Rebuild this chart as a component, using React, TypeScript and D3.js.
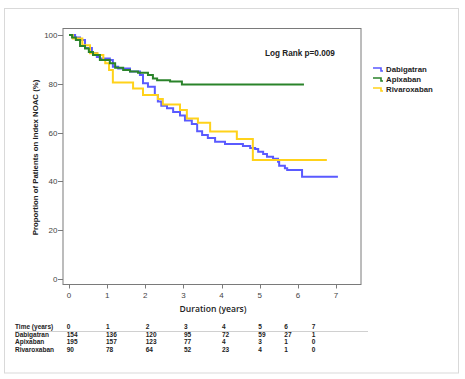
import React from "react";
import * as d3 from "d3";

const xTicks = [0, 1, 2, 3, 4, 5, 6, 7];
const yTicks = [0, 20, 40, 60, 80, 100];

const dabTime = [0, 0.16, 0.29, 0.42, 0.6, 0.73, 0.81, 1.07, 1.15, 1.29, 1.6, 1.86, 1.94, 2.07, 2.25, 2.33, 2.42, 2.57, 2.73, 2.91, 3.04, 3.22, 3.36, 3.49, 3.64, 3.83, 4.09, 4.56, 4.75, 4.88, 4.96, 5.09, 5.19, 5.35, 5.48, 5.51, 5.66, 5.72, 6.11, 7.05];
const dabSurv = [100, 99, 98, 94.7, 92.6, 91, 90.4, 89.8, 87, 86.3, 85, 83.6, 80.2, 78.8, 75.4, 72.7, 71, 70, 68.4, 67, 65, 63.5, 60.6, 59, 57.8, 56.3, 55.3, 54.5, 53.7, 53.3, 52.2, 51.2, 50.1, 49.3, 48.1, 46.4, 45.4, 44.7, 41.9, 41.9];

const apiTime = [0, 0.08, 0.18, 0.29, 0.42, 0.52, 0.63, 0.81, 1.07, 1.21, 1.42, 1.6, 1.81, 2.07, 2.2, 2.31, 2.65, 2.96, 6.16];
const apiSurv = [100, 99, 98, 95.5, 94.5, 93, 91.8, 89.8, 88.4, 86.6, 85.7, 85, 84.5, 83.6, 82.2, 81.5, 80.9, 79.7, 79.7];

const rivTime = [0, 0.1, 0.35, 0.55, 0.75, 0.9, 0.95, 1.05, 1.15, 1.68, 1.94, 2.33, 2.46, 2.91, 3.09, 3.38, 3.7, 4.4, 4.82, 6.76];
const rivSurv = [100, 98.6, 95.8, 92.5, 91.8, 89.8, 88.4, 85.7, 80.5, 78.1, 75.4, 73.8, 71.5, 69.3, 65.8, 64, 60.4, 57.4, 48.8, 48.8];

const seriesNames = ["Dabigatran", "Apixaban", "Rivaroxaban"];
const seriesColors = ["#5a5aff", "#2a832a", "#ffd21a"];

const tableTimes = ["0", "1", "2", "3", "4", "5", "6", "7"];
const riskDab = [154, 136, 120, 95, 72, 59, 27, 1];
const riskApi = [195, 157, 123, 77, 4, 3, 1, 0];
const riskRiv = [90, 78, 64, 52, 23, 4, 1, 0];

export default function App() {
  const x = d3.scaleLinear().domain([0, 7]).range([69, 336]);
  const y = d3.scaleLinear().domain([0, 100]).range([279, 35]);
  const line = d3
    .line<[number, number]>()
    .x((d) => x(d[0]))
    .y((d) => y(d[1]))
    .curve(d3.curveStepAfter);

  const series = [
    { t: dabTime, s: dabSurv },
    { t: apiTime, s: apiSurv },
    { t: rivTime, s: rivSurv },
  ];
  const drawOrder = [0, 2, 1];

  const tableRows = [
    { name: "Dabigatran", vals: riskDab },
    { name: "Apixaban", vals: riskApi },
    { name: "Rivaroxaban", vals: riskRiv },
  ];
  const colX = [66.7, 106, 145.7, 184, 222, 258.3, 284.3, 311.7];
  const headY = 328.8;
  const rowY = [336.5, 344.1, 351.7];
  const tableFont = "'Liberation Sans', Arial, sans-serif";
  const tfs = 6.5;

  const plotL = 63, plotR = 361, plotT = 28.5, plotB = 284.5;

  return (
    <svg width={465} height={379} style={{ position: "absolute", left: 0, top: 0 }}>
      <rect x={0} y={0} width={465} height={379} fill="#fff" />
      <rect x={4.5} y={8.5} width={454} height={364.5} fill="none" stroke="#d9d9d9" strokeWidth={1} />
      {/* plot frame */}
      <rect x={plotL} y={plotT} width={plotR - plotL} height={plotB - plotT} fill="none" stroke="#7a7a7a" strokeWidth={1} />
      {/* y ticks */}
      {yTicks.map((v) => (
        <g key={"y" + v}>
          <line x1={plotL - 5} x2={plotL} y1={Math.round(y(v)) + 0.5} y2={Math.round(y(v)) + 0.5} stroke="#7a7a7a" />
          <text x={plotL - 5.5} y={y(v) + 3} textAnchor="end" fontFamily="'Liberation Sans', Arial, sans-serif" fontSize={8} fill="#444">
            {v}
          </text>
        </g>
      ))}
      {/* x ticks */}
      {xTicks.map((v) => (
        <g key={"x" + v}>
          <line x1={Math.round(x(v)) + 0.5} x2={Math.round(x(v)) + 0.5} y1={plotB} y2={plotB + 4} stroke="#7a7a7a" />
          <text x={x(v)} y={298} textAnchor="middle" fontFamily="'Liberation Sans', Arial, sans-serif" fontSize={8} fill="#444">
            {v}
          </text>
        </g>
      ))}
      {/* curves */}
      {drawOrder.map((i) => {
        const pts: [number, number][] = series[i].t.map((t, k) => [t, series[i].s[k]]);
        return (
          <path key={"c" + i} d={line(pts) || ""} fill="none" stroke={seriesColors[i]} strokeWidth={2} strokeLinejoin="miter" />
        );
      })}
      {/* y title */}
      <text
        transform="translate(38,157.5) rotate(-90)"
        textAnchor="middle"
        fontFamily="'Liberation Sans', Arial, sans-serif"
        fontWeight="bold"
        fontSize={7.8}
        fill="#222"
      >
        Proportion of Patients on Index NOAC (%)
      </text>
      {/* log rank */}
      <text x={265} y={56} fontFamily="'Liberation Sans', Arial, sans-serif" fontWeight="bold" fontSize={8.2} fill="#222">
        Log Rank p=0.009
      </text>
      {/* legend */}
      {seriesNames.map((n, i) => {
        const ly = 69 + i * 10;
        return (
          <g key={"l" + n}>
            <path d={`M373,${ly - 1} H381 V${ly + 2} H383`} fill="none" stroke={seriesColors[i]} strokeWidth={1.6} />
            <text x={386} y={ly + 3} fontFamily="'Liberation Sans', Arial, sans-serif" fontWeight="bold" fontSize={7.8} fill="#222">
              {n}
            </text>
          </g>
        );
      })}
      {/* x title */}
      <text x={213} y={312} textAnchor="middle" fontFamily="'Open Sans', Lato, sans-serif" fontWeight={600} fontSize={8.6} fill="#222">
        Duration (years)
      </text>
      {/* risk table */}
      <text x={15} y={headY} fontFamily={tableFont} fontWeight="bold" fontSize={tfs} fill="#222">
        Time (years)
      </text>
      {tableTimes.map((t, k) => (
        <text key={"h" + k} x={colX[k]} y={headY} fontFamily={tableFont} fontWeight="bold" fontSize={tfs} fill="#222">
          {t}
        </text>
      ))}
      <line x1={15} x2={368} y1={331.5} y2={331.5} stroke="#c4c4c4" strokeWidth={0.8} />
      {tableRows.map((r, i) => (
        <g key={"r" + r.name}>
          <text x={15} y={rowY[i]} fontFamily={tableFont} fontWeight="bold" fontSize={tfs} fill="#222">
            {r.name}
          </text>
          {r.vals.map((v, k) => (
            <text key={k} x={colX[k]} y={rowY[i]} fontFamily={tableFont} fontWeight="bold" fontSize={tfs} fill="#222">
              {v}
            </text>
          ))}
        </g>
      ))}
    </svg>
  );
}
